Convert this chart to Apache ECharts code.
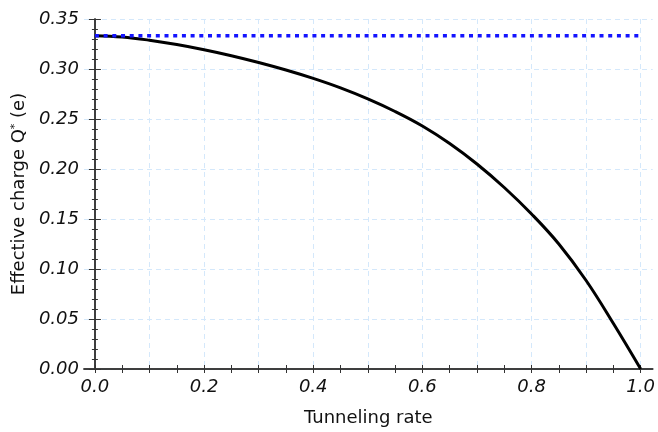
<!DOCTYPE html>
<html>
<head>
<meta charset="utf-8">
<script src="https://cdn.jsdelivr.net/npm/echarts@6/dist/echarts.min.js"></script>
<style>html,body{margin:0;padding:0;background:#fff}#c{width:658px;height:432px}</style>
</head>
<body>
<div id="c"></div>
<script>
// Data
var tunnelingRate = [0, 0.05, 0.1, 0.15, 0.2, 0.25, 0.3, 0.35, 0.4, 0.45, 0.5, 0.55, 0.6, 0.65, 0.7, 0.75, 0.8, 0.85, 0.9, 0.95, 1.0];
var effectiveCharge = [0.3333, 0.3320, 0.3288, 0.3245, 0.3193, 0.3133, 0.3065, 0.2990, 0.2906, 0.2811, 0.2701, 0.2575, 0.2430, 0.2255, 0.2050, 0.1815, 0.1550, 0.1250, 0.0885, 0.0455, 0.0000];
var referenceRate = [0, 1.0];
var referenceCharge = [0.3333, 0.3333];
var xTickLabels = [0, 0.2, 0.4, 0.6, 0.8, 1.0];
var xTicks = [0, 0.05, 0.1, 0.15, 0.2, 0.25, 0.3, 0.35, 0.4, 0.45, 0.5, 0.55, 0.6, 0.65, 0.7, 0.75, 0.8, 0.85, 0.9, 0.95, 1.0];
var xGrid = [0, 0.1, 0.2, 0.3, 0.4, 0.5, 0.6, 0.7, 0.8, 0.9, 1.0];

var curve = tunnelingRate.map(function (x, i) { return [x, effectiveCharge[i]]; });
var ref = referenceRate.map(function (x, i) { return [x, referenceCharge[i]]; });

var FONT = 'DejaVu Sans';
var frame = { show: true, lineStyle: { color: '#333', width: 1.5 } };
var gridStyle = { show: true, lineStyle: { color: '#d4e8fb', width: 1, type: [5, 4] } };
var xMin = -0.02, xMax = 1.022;

var chart = echarts.init(document.getElementById('c'), null, { renderer: 'canvas' });
chart.setOption({
  animation: false,
  backgroundColor: '#fff',
  grid: { left: 84, top: 19, right: 4, bottom: 60, containLabel: false },
  xAxis: [
    {
      type: 'value', position: 'bottom', min: xMin, max: xMax,
      axisLine: frame,
      axisTick: { show: true, inside: true, length: 4, customValues: xTicks, lineStyle: { color: '#333', width: 1 } },
      axisLabel: { show: true, customValues: xTickLabels, margin: 9, color: '#111', fontFamily: FONT, fontStyle: 'italic', fontSize: 18,
        formatter: function (v) { return v.toFixed(1); } },
      splitLine: { show: false },
      name: 'Tunneling rate', nameLocation: 'middle', nameGap: 40,
      nameTextStyle: { color: '#111', fontFamily: FONT, fontSize: 18 }
    },
    {
      type: 'value', position: 'top', min: xMin, max: xMax,
      axisLine: frame,
      axisTick: { show: true, inside: true, length: 4, customValues: xTicks, lineStyle: { color: '#333', width: 1 } },
      axisLabel: { show: false },
      splitLine: { show: false }
    },
    {
      type: 'value', position: 'bottom', min: xMin, max: xMax,
      axisLine: { show: false },
      axisTick: { show: false, customValues: xGrid },
      axisLabel: { show: false },
      splitLine: gridStyle
    }
  ],
  yAxis: [
    {
      type: 'value', position: 'left', min: 0, max: 0.35, interval: 0.05,
      axisLine: frame,
      axisTick: { show: true, inside: true, length: 6, lineStyle: { color: '#333', width: 1 } },
      minorTick: { show: true, splitNumber: 5, length: 3, lineStyle: { color: '#333', width: 1 } },
      axisLabel: { margin: 5, color: '#111', fontFamily: FONT, fontStyle: 'italic', fontSize: 18,
        formatter: function (v) { return v.toFixed(2); } },
      splitLine: gridStyle,
      name: 'Effective charge Q{sup|*} (e)', nameLocation: 'middle', nameGap: 54, nameRotate: 90,
      nameTextStyle: { color: '#111', fontFamily: FONT, fontSize: 18,
        rich: { sup: { fontFamily: FONT, fontSize: 11, color: '#111', verticalAlign: 'top', padding: [0, 0, 6, 0] } } }
    },
    {
      type: 'value', position: 'right', min: 0, max: 0.35, interval: 0.05,
      axisLine: frame,
      axisTick: { show: true, inside: true, length: 6, lineStyle: { color: '#333', width: 1 } },
      minorTick: { show: true, splitNumber: 5, length: 3, lineStyle: { color: '#333', width: 1 } },
      axisLabel: { show: false },
      splitLine: { show: false }
    }
  ],
  series: [
    {
      type: 'line', xAxisIndex: 0, yAxisIndex: 0, data: curve,
      showSymbol: false, smooth: 0.4, clip: false,
      lineStyle: { color: '#000', width: 3 }, z: 3
    },
    {
      type: 'line', xAxisIndex: 0, yAxisIndex: 0, data: ref,
      showSymbol: false, clip: false,
      lineStyle: { color: '#1414ff', width: 3.5, type: [4, 4.7], cap: 'butt' }, z: 4
    }
  ]
});
</script>
</body>
</html>
